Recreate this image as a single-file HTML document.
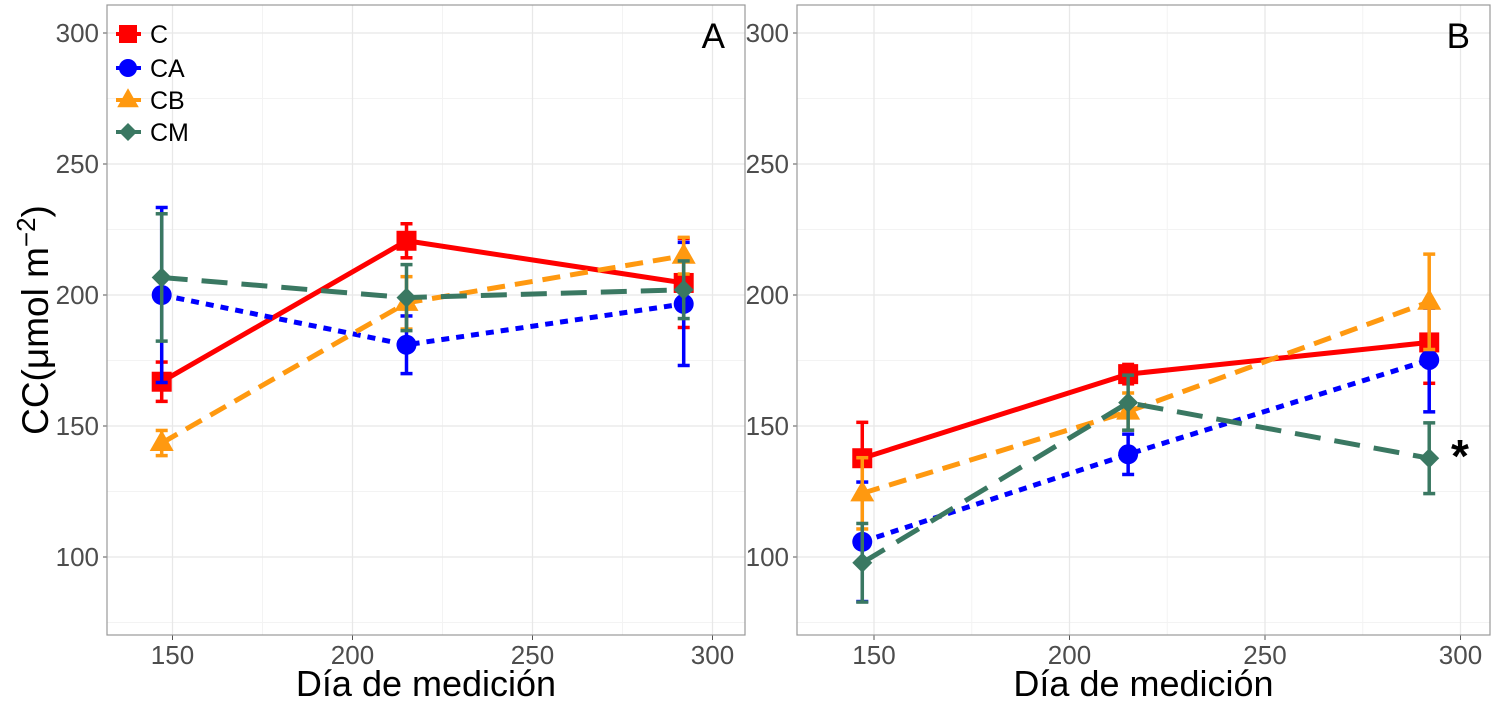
<!DOCTYPE html>
<html><head><meta charset="utf-8"><style>
html,body{margin:0;padding:0;background:#fff;}
svg{display:block;font-family:"Liberation Sans",sans-serif;}
</style></head><body>
<svg id="chart" width="1500" height="705" viewBox="0 0 1500 705"></svg>
<script>
const days=[147,215,292];
const seriesNames=["C","CA","CB","CM"];
// Panel A values
const aC=[166.9,220.7,204.6], aCerr=[7.5,6.5,17];
const aCA=[200,181,196.6], aCAerr=[33.4,11,23.5];
const aCB=[143.5,197,215], aCBerr=[4.8,10,7];
const aCM=[206.7,199,202], aCMerr=[24.3,12.6,11];
// Panel B values
const bC=[137.7,169.8,181.9], bCerr=[13.7,3.7,15.6];
const bCA=[105.8,139.2,175.2], bCAerr=[22.8,7.7,19.8];
const bCB=[124.3,155.5,197.4], bCBerr=[13.6,7.1,18.2];
const bCM=[97.8,158.9,137.7], bCMerr=[15,10.5,13.5];
const xTicks=[150,200,250,300];
const yTicks=[100,150,200,250,300];

const NS="http://www.w3.org/2000/svg";
const svg=document.getElementById('chart');
function mk(tag,attrs,parent){const e=document.createElementNS(NS,tag);for(const k in attrs)e.setAttribute(k,attrs[k]);(parent||svg).appendChild(e);return e;}
const yScale=v=>33+(300-v)*2.62;
const colors=["#ff0000","#0000ff","#ff9910","#3a7862"];
const dashes=["none","8 7","18 10","26 14"];

function panel(name,left,right,x0,k,data,errs,label){
  const xs=d=>x0+(d-150)*k;
  const g=mk('g',{});
  
  
  mk('rect',{x:left,y:5,width:right-left,height:630,fill:'#fff'},g);
  for(let v=75;v<=300;v+=50){mk('line',{x1:left,x2:right,y1:yScale(v),y2:yScale(v),stroke:'#f3f3f3','stroke-width':1},g);}
  for(let d=175;d<=300;d+=50){mk('line',{x1:xs(d),x2:xs(d),y1:5,y2:635,stroke:'#f3f3f3','stroke-width':1},g);}
  yTicks.forEach(v=>{mk('line',{x1:left,x2:right,y1:yScale(v),y2:yScale(v),stroke:'#e8e8e8','stroke-width':1.3},g);
    mk('line',{x1:left-4,x2:left,y1:yScale(v),y2:yScale(v),stroke:'#555','stroke-width':1},g);
    const t=mk('text',{x:left-8,y:yScale(v)+9,'text-anchor':'end','font-size':26,fill:'#4d4d4d'},g);t.textContent=v;
    });
  xTicks.forEach(d=>{mk('line',{x1:xs(d),x2:xs(d),y1:5,y2:635,stroke:'#e8e8e8','stroke-width':1.3},g);
    mk('line',{x1:xs(d),x2:xs(d),y1:635,y2:640,stroke:'#555','stroke-width':1},g);
    const t=mk('text',{x:xs(d),y:664,'text-anchor':'middle','font-size':26,fill:'#4d4d4d'},g);t.textContent=d;
    });
  data.forEach((vals,i)=>{
    const sg=mk('g',{},g);
    
    
    vals.forEach((v,j)=>{const x=xs(days[j]),e=errs[i][j];
      mk('line',{x1:x,x2:x,y1:yScale(v+e),y2:yScale(v-e),stroke:colors[i],'stroke-width':3.5},sg);
      mk('line',{x1:x-6,x2:x+6,y1:yScale(v+e),y2:yScale(v+e),stroke:colors[i],'stroke-width':3.5},sg);
      mk('line',{x1:x-6,x2:x+6,y1:yScale(v-e),y2:yScale(v-e),stroke:colors[i],'stroke-width':3.5},sg);});
    const pts=vals.map((v,j)=>xs(days[j])+','+yScale(v)).join(' ');
    const pl=mk('polyline',{points:pts,fill:'none',stroke:colors[i],'stroke-width':5},sg);
    if(dashes[i]!=='none')pl.setAttribute('stroke-dasharray',dashes[i]);
    vals.forEach((v,j)=>{marker(i,xs(days[j]),yScale(v),sg,10);});
  });
  mk('rect',{x:left,y:5,width:right-left,height:630,fill:'none',stroke:'#999','stroke-width':1.2},g);
  const lb=mk('text',{x:right-20,y:48,'text-anchor':'end','font-size':35,fill:'#000'},g);lb.textContent=label;
  
  const xt=mk('text',{x:(left+right)/2,y:696,'text-anchor':'middle','font-size':36,fill:'#000'},g);xt.textContent='Día de medición';
  
  return xs;
}
function marker(i,x,y,p,s){
  let m;
  if(i===0)m=mk('rect',{x:x-s,y:y-s,width:2*s,height:2*s,fill:colors[0]},p);
  else if(i===1)m=mk('circle',{cx:x,cy:y,r:s,fill:colors[1]},p);
  else if(i===2)m=mk('polygon',{points:`${x},${y-s*1.3} ${x+s*1.2},${y+s*0.8} ${x-s*1.2},${y+s*0.8}`,fill:colors[2]},p);
  else m=mk('polygon',{points:`${x},${y-s} ${x+s},${y} ${x},${y+s} ${x-s},${y}`,fill:colors[3]},p);
  
  
}
panel('a',107,745,172.5,3.6,[aC,aCA,aCB,aCM],[aCerr,aCAerr,aCBerr,aCMerr],'A');
panel('b',797,1490,874,3.91,[bC,bCA,bCB,bCM],[bCerr,bCAerr,bCBerr,bCMerr],'B');
const ast=mk('text',{x:1460,y:472,'text-anchor':'middle','font-size':46,'font-weight':'bold',fill:'#000'});
ast.textContent='*';


const yt=mk('text',{x:0,y:0,transform:'translate(48,320) rotate(-90)','text-anchor':'middle','font-size':37,fill:'#000'});
yt.innerHTML='CC(μmol m<tspan dy="-13" font-size="26">−2</tspan><tspan dy="13">)</tspan>';


const lg=mk('g',{});


const ly=[34,68,100,132];
seriesNames.forEach((n,i)=>{
  const eg=mk('g',{},lg);
  
  
  mk('line',{x1:116,x2:141,y1:ly[i],y2:ly[i],stroke:colors[i],'stroke-width':4},eg);
  marker(i,128,ly[i],eg,9);
  const t=mk('text',{x:150,y:ly[i]+9,'font-size':25,fill:'#000'},eg);t.textContent=n;
});
</script>
</body></html>
